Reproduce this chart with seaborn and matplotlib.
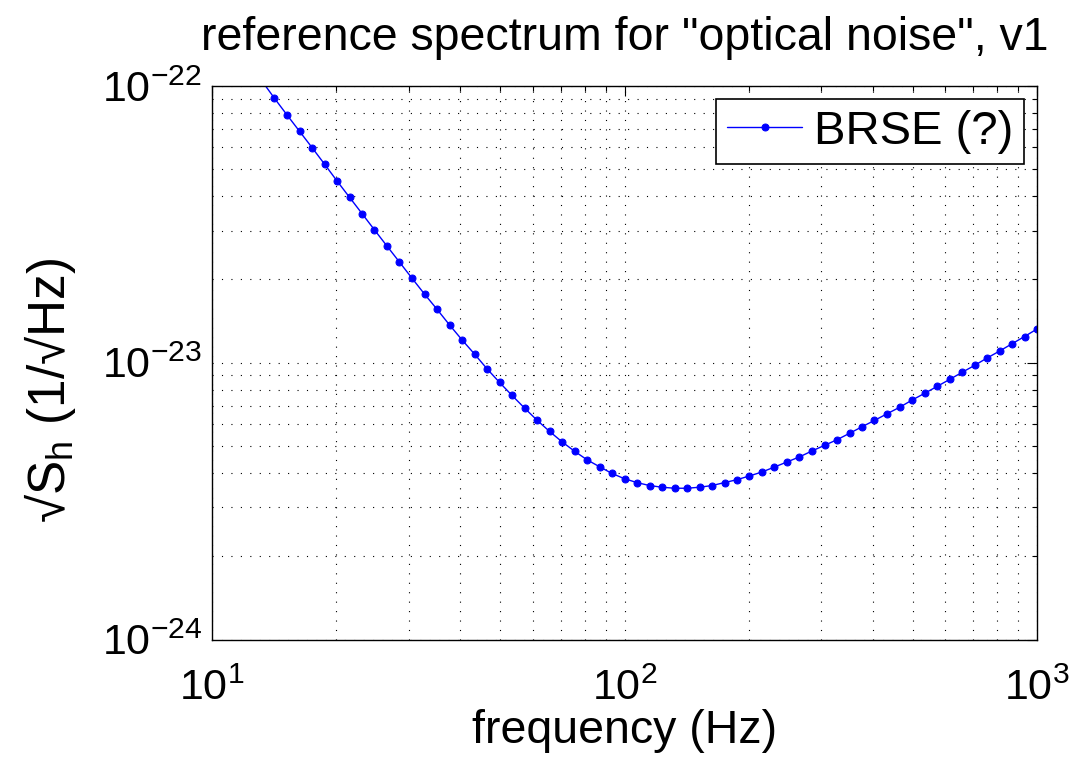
import numpy as np
import pandas as pd
import matplotlib
matplotlib.use('Agg')
import matplotlib.pyplot as plt
from matplotlib.ticker import LogLocator, NullFormatter
import seaborn as sns

# frequency points (Hz), log spaced
freq_hz = [10.00, 10.72, 11.50, 12.33, 13.22, 14.17, 15.20, 16.30, 17.48, 18.74,
           20.09, 21.55, 23.10, 24.77, 26.56, 28.48, 30.54, 32.75, 35.12, 37.65,
           40.37, 43.29, 46.42, 49.78, 53.37, 57.23, 61.37, 65.80, 70.56, 75.66,
           81.13, 86.99, 93.28, 100.0, 107.2, 115.0, 123.3, 132.2, 141.8, 152.0,
           163.0, 174.8, 187.4, 200.9, 215.5, 231.0, 247.7, 265.6, 284.8, 305.4,
           327.5, 351.2, 376.5, 403.7, 432.9, 464.2, 497.8, 533.7, 572.3, 613.7,
           658.0, 705.6, 756.6, 811.3, 869.9, 932.8, 1000.0]

# sqrt(S_h) in units of 1e-24 / sqrt(Hz)
asd_1e24 = [186.2, 160.7, 139.0, 120.2, 104.2, 90.3, 78.6, 68.6, 59.9, 52.2,
            45.4, 39.6, 34.6, 30.2, 26.4, 23.1, 20.2, 17.7, 15.6, 13.7,
            12.1, 10.75, 9.51, 8.49, 7.62, 6.86, 6.20, 5.65, 5.18, 4.79,
            4.46, 4.21, 3.98, 3.81, 3.69, 3.60, 3.55, 3.52, 3.52, 3.55,
            3.60, 3.69, 3.78, 3.90, 4.03, 4.20, 4.38, 4.57, 4.80, 5.03,
            5.27, 5.56, 5.87, 6.19, 6.54, 6.90, 7.33, 7.75, 8.21, 8.70,
            9.23, 9.78, 10.40, 11.02, 11.71, 12.44, 13.24]

series_label = 'BRSE (?)'
title_text = 'reference spectrum for "optical noise", v1'
xlabel_text = 'frequency (Hz)'
ylabel_text = '√S$_\\mathrm{h}$ (1/√Hz)'

df = pd.DataFrame({'freq': freq_hz, 'asd': np.array(asd_1e24) * 1e-24})

sns.set_style('white')
plt.rcParams['font.family'] = ['Liberation Sans', 'DejaVu Sans']
plt.rcParams['mathtext.fontset'] = 'custom'
plt.rcParams['mathtext.rm'] = 'Liberation Sans'
plt.rcParams['mathtext.it'] = 'Liberation Sans:italic'
plt.rcParams['mathtext.bf'] = 'Liberation Sans:bold'
plt.rcParams['mathtext.sf'] = 'Liberation Sans'
for key in ['text.color', 'axes.labelcolor', 'xtick.color', 'ytick.color', 'axes.edgecolor']:
    plt.rcParams[key] = 'black'
fs_tick = 31
fs_text = 33.5

fig = plt.figure(figsize=(10.77, 7.61), dpi=100)
ax = fig.add_axes([212 / 1077, 1 - 639.5 / 761, (1037 - 212) / 1077, (639.5 - 86) / 761])
ax.set_xscale('log')
ax.set_yscale('log')

sns.lineplot(data=df, x='freq', y='asd', ax=ax, color='blue', linewidth=1.0,
             marker='o', markersize=5, markeredgecolor='blue', label=series_label)

ax.set_xlim(10, 1000)
ax.set_ylim(1e-24, 1e-22)

ax.xaxis.set_major_locator(LogLocator(base=10, numticks=10))
ax.yaxis.set_major_locator(LogLocator(base=10, numticks=10))
ax.xaxis.set_minor_locator(LogLocator(base=10, subs=np.arange(2, 10), numticks=20))
ax.yaxis.set_minor_locator(LogLocator(base=10, subs=np.arange(2, 10), numticks=20))
ax.xaxis.set_minor_formatter(NullFormatter())
ax.yaxis.set_minor_formatter(NullFormatter())

ax.grid(which='both', color='black', linewidth=0.8, linestyle=(0, (1, 7.5)))
ax.tick_params(which='both', direction='in', top=True, right=True, labelsize=fs_tick,
               color='black', width=0.8)
ax.tick_params(which='major', length=7)
ax.tick_params(which='minor', length=3.5)
ax.tick_params(axis='x', which='major', pad=21)
ax.tick_params(axis='y', which='major', pad=7)
for sp in ax.spines.values():
    sp.set_color('black')
    sp.set_linewidth(1.0)

ax.set_title(title_text, fontsize=fs_text, pad=26)
ax.set_xlabel(xlabel_text, fontsize=fs_text, labelpad=0)
ax.set_ylabel(ylabel_text, fontsize=37)
ax.yaxis.set_label_coords(-0.163, 0.45)

leg = ax.legend(loc='upper right', fontsize=34, fancybox=False, framealpha=1,
                edgecolor='black', borderaxespad=0.28, handlelength=1.6,
                handletextpad=0.25, borderpad=0.22, numpoints=1)
leg.get_frame().set_linewidth(1.2)

fig.savefig('out.png', dpi=100)
